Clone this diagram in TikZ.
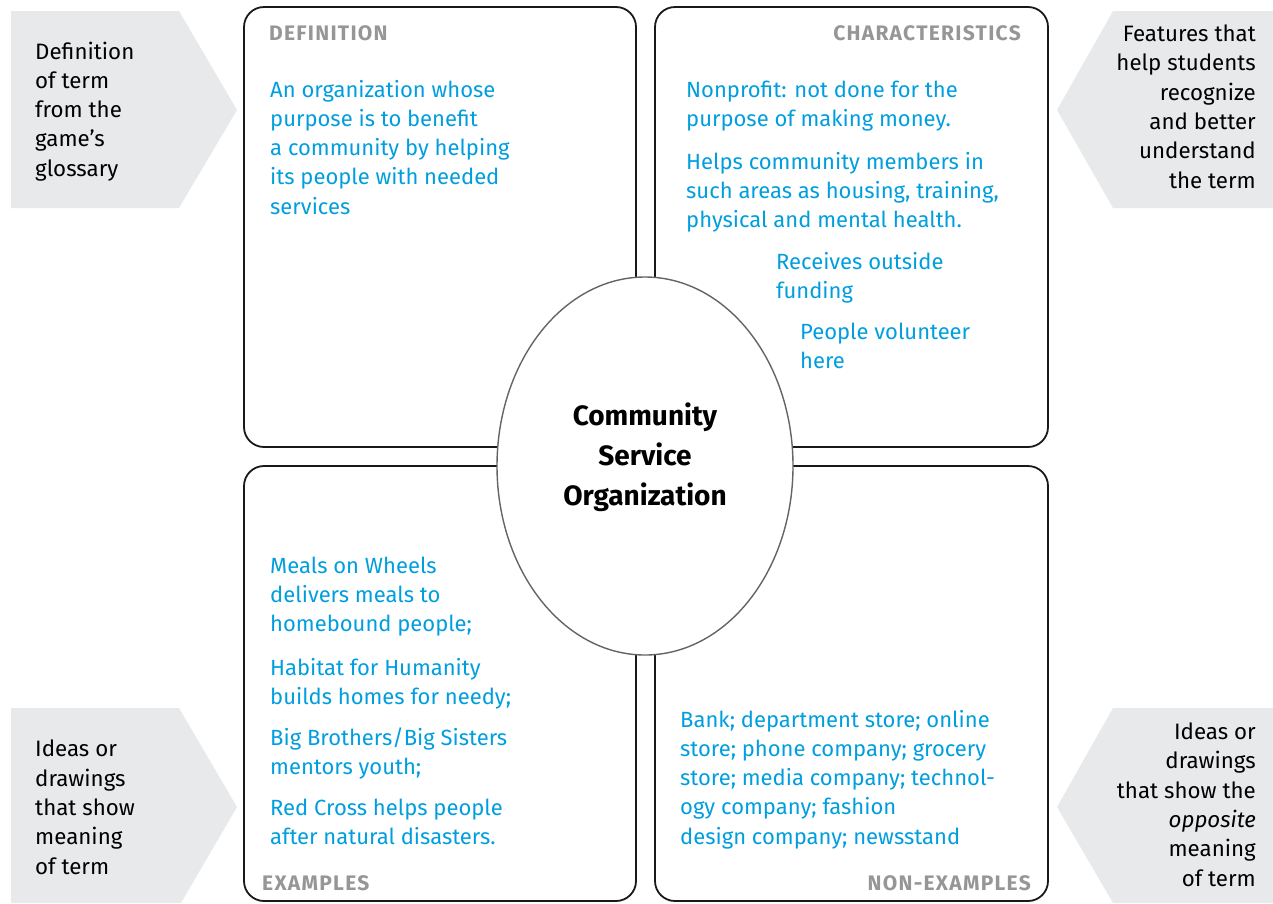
\documentclass[tikz,border=0pt]{standalone}
\usepackage{fontspec}
\setmainfont{Fira Sans}
\usetikzlibrary{shapes.geometric}
\definecolor{txtblue}{RGB}{0,158,222}
\definecolor{hdrgray}{RGB}{150,150,150}
\definecolor{tabgray}{RGB}{232,233,235}
\definecolor{ringgray}{RGB}{100,100,100}
\tikzset{
  quad/.style={draw=black!90, line width=1.8pt, rounded corners=20pt},
  tab/.style={fill=tabgray, draw=none},
  body/.style={text=txtblue, font=\fontsize{22}{29.3}\selectfont, inner sep=0pt, align=left, anchor=base west},
  hint/.style={text=black, font=\fontsize{22.3}{29.3}\selectfont, inner sep=0pt, align=left, anchor=base west},
  hintr/.style={hint, align=right, anchor=base east},
  head/.style={text=hdrgray, font=\bfseries\fontsize{21}{24}\selectfont\addfontfeature{LetterSpace=6}, inner sep=0pt},
  core/.style={ellipse, draw=ringgray, line width=1.4pt, fill=white, minimum width=296pt, minimum height=378pt, inner sep=0pt, outer sep=0pt},
  coretext/.style={font=\bfseries\fontsize{28}{40}\selectfont, align=center, inner sep=0pt, anchor=base}
}
\begin{document}
\begin{tikzpicture}[x=1pt,y=-1pt]
\useasboundingbox (0,0) rectangle (1273,903);
% grey tabs
\fill[tab] (11,11) -- (179,11) -- (237,110) -- (179,208) -- (11,208) -- cycle;
\fill[tab] (1273,11) -- (1113,11) -- (1057,110) -- (1113,208) -- (1273,208) -- cycle;
\fill[tab] (11,708) -- (179,708) -- (237,807) -- (181,903) -- (11,903) -- cycle;
\fill[tab] (1273,708) -- (1113,708) -- (1057,807) -- (1113,903) -- (1273,903) -- cycle;
% quadrants
\draw[quad] (244,7) rectangle (636,447);
\draw[quad] (655,7) rectangle (1048,447);
\draw[quad] (244,466) rectangle (636,901);
\draw[quad] (655,466) rectangle (1048,901);
% centre
\node[core] (core) at (645,466) {};
\node[coretext] (title) at (645,505) {Community\\Service\\Organization};
% headers
\node[head, anchor=base west] (hdef) at (269,40) {DEFINITION};
\node[head, anchor=base east] (hchar) at (1021,40) {CHARACTERISTICS};
\node[head, anchor=base west] (hex) at (262,890) {EXAMPLES};
\node[head, anchor=base east] (hnon) at (1031,890) {NON-EXAMPLES};
% definition (anchor = baseline of last line)
\node[body] (def) at (270,214.2) {An organization whose\\purpose is to benefit\\a community by helping\\its people with needed\\services};
% characteristics
\node[body] (c1) at (686,126.5) {Nonprofit: not done for the\\purpose of making money.};
\node[body] (c2) at (686,227.6) {Helps community members in\\such areas as housing, training,\\physical and mental health.};
\node[body] (c3) at (776,298.3) {Receives outside\\funding};
\node[body] (c4) at (800,368.3) {People volunteer\\here};
% examples
\node[body] (e1) at (270,631.6) {Meals on Wheels\\delivers meals to\\homebound people;};
\node[body] (e2) at (270,704.3) {Habitat for Humanity\\builds homes for needy;};
\node[body] (e3) at (270,774.3) {Big Brothers/Big Sisters\\mentors youth;};
\node[body] (e4) at (270,844.3) {Red Cross helps people\\after natural disasters.};
% non-examples
\node[body] (n1) at (680,844.2) {Bank; department store; online\\store; phone company; grocery\\store; media company; technol-\\ogy company; fashion\\design company; newsstand};
% hints
\node[hint] (hint1) at (35,176.2) {Definition\\of term\\from the\\game’s\\glossary};
\node[hintr] (hint2) at (1256,188) {Features that\\help students\\recognize\\and better\\understand\\the term};
\node[hint] (hint3) at (35,874) {Ideas or\\drawings\\that show\\meaning\\of term};
\node[hintr] (hint4) at (1256,886) {Ideas or\\drawings\\that show the\\\textit{opposite}\\meaning\\of term};
\end{tikzpicture}
\end{document}
